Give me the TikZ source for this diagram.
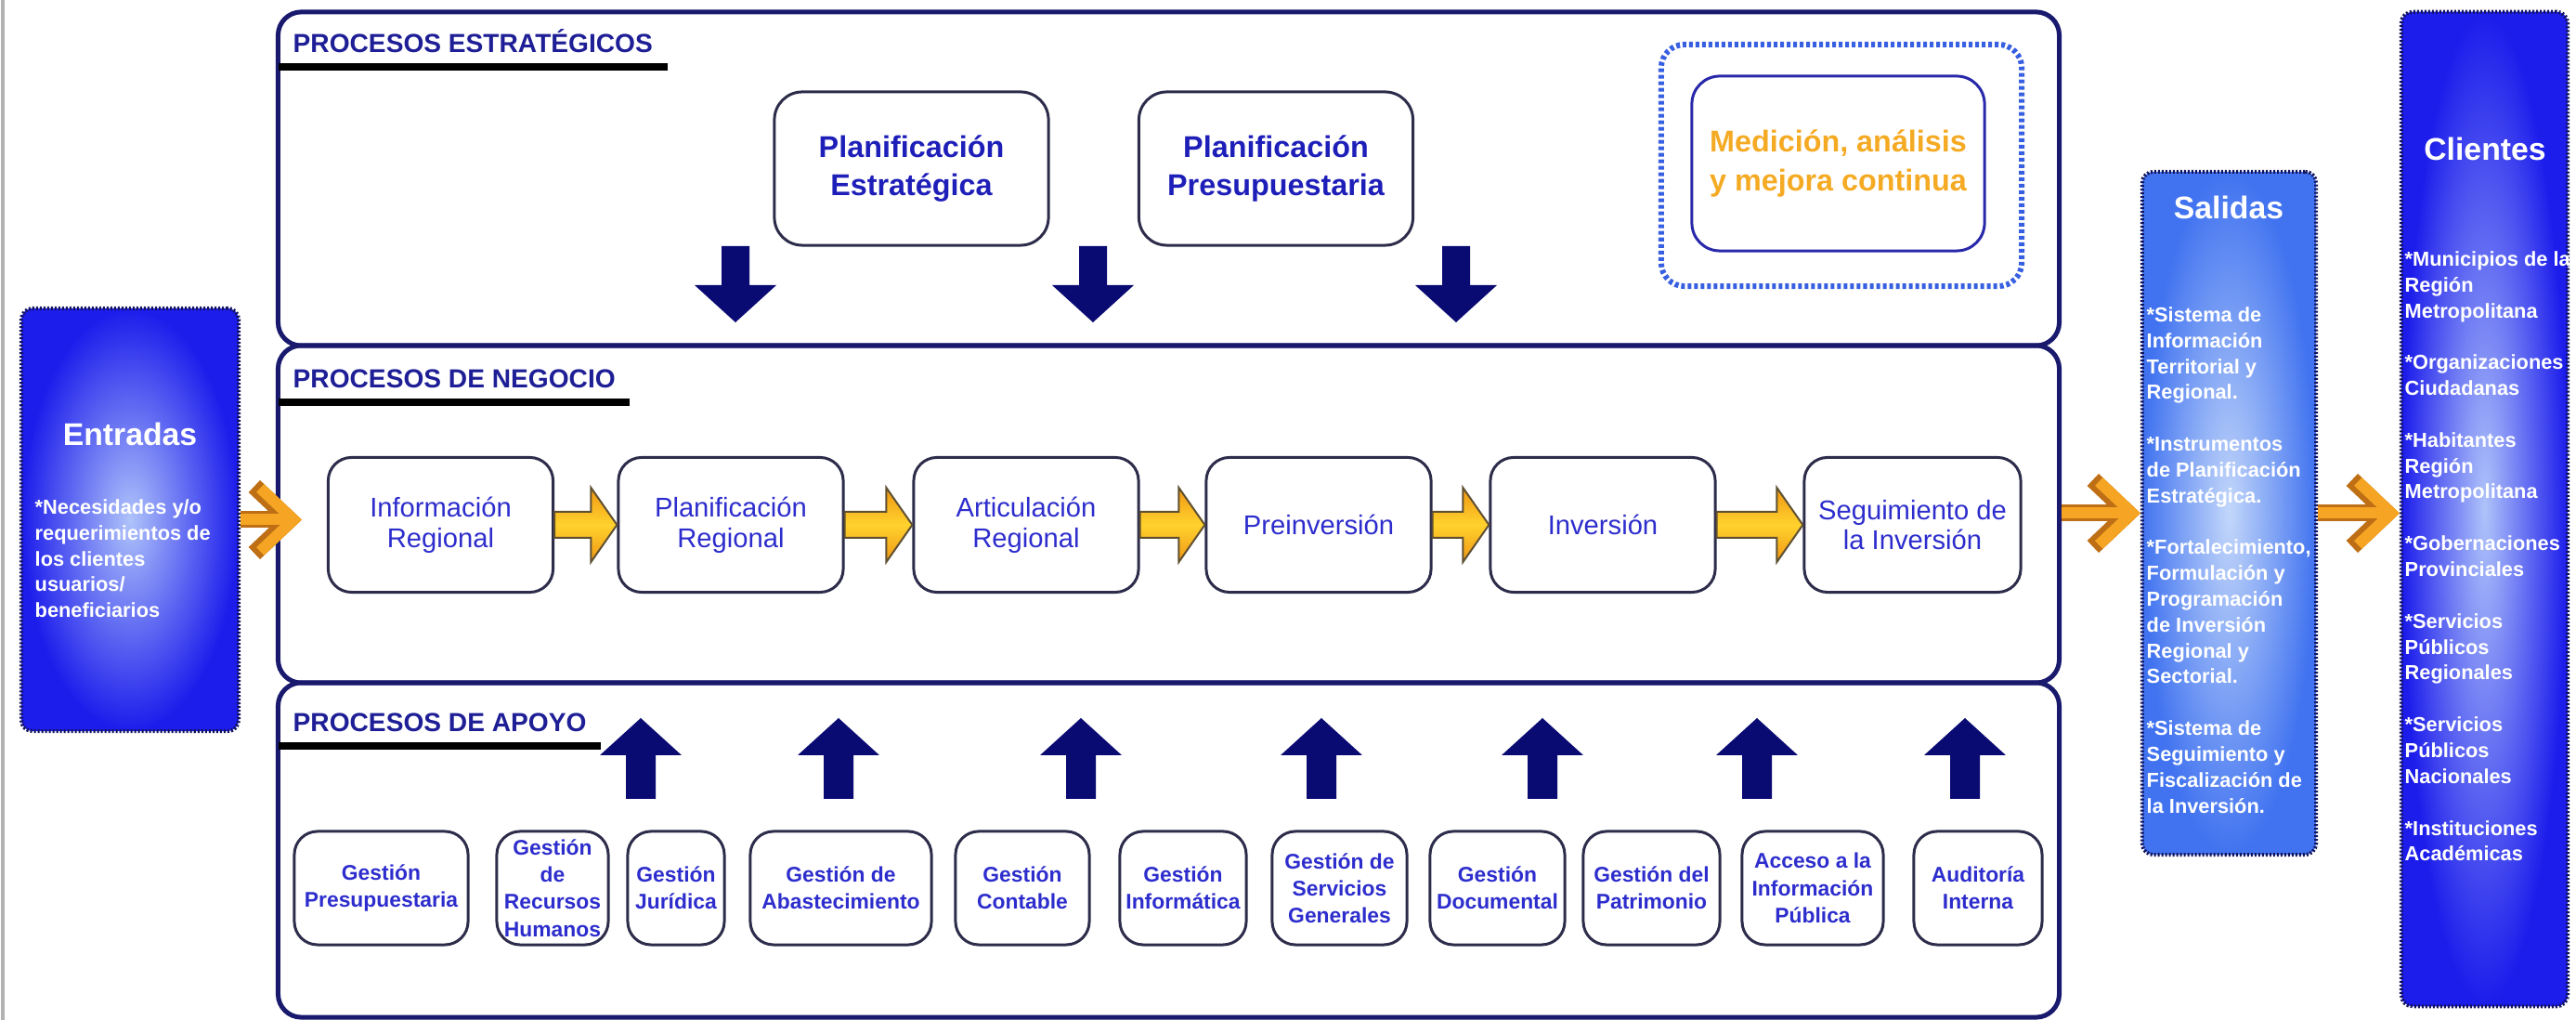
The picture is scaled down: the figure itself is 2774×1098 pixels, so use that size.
\documentclass[tikz,border=0pt]{standalone}
\usepackage{fontspec}
\setmainfont{Liberation Sans}
\usetikzlibrary{arrows.meta,calc}

\definecolor{marino}{RGB}{25,25,110}
\definecolor{azulflecha}{RGB}{10,10,115}
\definecolor{borde}{RGB}{45,45,75}
\definecolor{azultexto}{RGB}{30,30,185}
\definecolor{azulproc}{RGB}{45,45,205}
\definecolor{azulcab}{RGB}{30,30,150}
\definecolor{azulmed}{RGB}{40,40,170}
\definecolor{azulpunto}{RGB}{55,95,225}
\definecolor{naranjatexto}{RGB}{245,170,35}
\definecolor{azulfuerte}{RGB}{28,28,235}
\definecolor{celeste}{RGB}{175,195,250}
\definecolor{azulclaro}{RGB}{65,115,240}
\definecolor{celestesal}{RGB}{195,215,250}
\definecolor{bordeext}{RGB}{20,20,90}
\definecolor{naranja}{RGB}{240,150,20}
\definecolor{amarillo}{RGB}{255,210,45}
\definecolor{bordeflujo}{RGB}{95,80,50}
\definecolor{naranjaflecha}{RGB}{245,165,35}
\definecolor{bordechevron}{RGB}{190,110,20}

\tikzset{
	panel/.style={draw=marino, line width=0.05cm, rounded corners=0.25cm, minimum width=19.17cm},
	estrat/.style={draw=borde, line width=0.03cm, rounded corners=0.3cm, align=center, text=azultexto, font=\fontsize{9.2}{11.7}\selectfont\bfseries},
	proceso/.style={draw=borde, line width=0.03cm, rounded corners=0.25cm, minimum width=2.42cm, minimum height=1.45cm, align=center, text=azulproc, font=\fontsize{8.3}{9.3}\selectfont},
	soporte/.style={draw=borde, line width=0.03cm, rounded corners=0.25cm, minimum height=1.22cm, inner sep=0pt, align=center, text=azulproc, font=\fontsize{6.5}{8.3}\selectfont\bfseries},
	punteado/.style={draw=azulpunto, line width=0.06cm, dash pattern=on 0.04cm off 0.03cm, rounded corners=0.25cm},
	externo/.style={draw=bordeext, line width=0.04cm, dash pattern=on 0.02cm off 0.02cm, rounded corners=0.12cm},
	titulo/.style={text=white, font=\fontsize{9.6}{11}\selectfont\bfseries},
	lista/.style={anchor=north west, align=left, inner sep=0pt, text=white, font=\fontsize{6.2}{7.9}\selectfont\bfseries},
	encabezado/.style={anchor=south west, inner xsep=0.15cm, inner ysep=0.15cm, text=azulcab, font=\fontsize{8}{9.6}\selectfont\bfseries},
	regla/.style={line width=0.08cm, black},
	bloque/.style={draw=bordeflujo, line width=0.02cm, top color=naranja, bottom color=naranja, middle color=amarillo},
	chevron/.style={draw=naranjaflecha, line width=0.12cm, -{Straight Barb[length=0.36cm, width=0.68cm]}, preaction={draw=bordechevron, line width=0.18cm, -{Straight Barb[length=0.38cm, width=0.72cm]}}},
	bajada/.pic={\fill[azulflecha] (-15,0) -- (15,0) -- (15,42) -- (44,42) -- (0,82) -- (-44,42) -- (-15,42) -- cycle;},
	subida/.pic={\fill[azulflecha] (0,0) -- (44,40) -- (16,40) -- (16,87) -- (-16,87) -- (-16,40) -- (-44,40) -- cycle;}
}

\newcommand{\flujo}[2]{\draw[bloque] ($(#1.east)+(0,-14)$) -- ($(#2.west)+(-28,-14)$) -- ($(#2.west)+(-28,-40)$) -- (#2.west) -- ($(#2.west)+(-28,40)$) -- ($(#2.west)+(-28,14)$) -- ($(#1.east)+(0,14)$) -- cycle;}

\begin{document}
\begin{tikzpicture}[x=0.01cm, y=-0.01cm]

	\useasboundingbox (0,0) rectangle (2774,1098);
	\draw[gray!60, line width=0.04cm] (3,0) -- (3,1098);

	\node[panel, minimum height=3.59cm](estrategicos) at (1258.5,192.5){};
	\node[panel, minimum height=3.63cm](negocio) at (1258.5,553.5){};
	\node[panel, minimum height=3.6cm](apoyo) at (1258.5,915){};

	\node[encabezado](testrat) at (300,72){PROCESOS ESTRATÉGICOS};
	\node[encabezado](tnegocio) at (300,433){PROCESOS DE NEGOCIO};
	\node[encabezado](tapoyo) at (300,803){PROCESOS DE APOYO};
	\draw[regla] (testrat.south west) -- (testrat.south east);
	\draw[regla] (tnegocio.south west) -- (tnegocio.south east);
	\draw[regla] (tapoyo.south west) -- (tapoyo.south east);

	\node[estrat, minimum width=2.95cm, minimum height=1.65cm](planest) at (981.5,181.5){Planificación\\Estratégica};
	\node[estrat, minimum width=2.95cm, minimum height=1.65cm](planpres) at (1374,181.5){Planificación\\Presupuestaria};
	\node[punteado, minimum width=3.88cm, minimum height=2.6cm](mejora) at (1983,178){};
	\node[estrat, draw=azulmed, text=naranjatexto, minimum width=3.15cm, minimum height=1.88cm](medicion) at (1979.5,176){Medición, análisis\\y mejora continua};

	\pic at (792,265) {bajada};
	\pic at (1177,265) {bajada};
	\pic at (1568,265) {bajada};

	\node[proceso](info) at (474.5,565){Información\\Regional};
	\node[proceso](planreg) at (787,565){Planificación\\Regional};
	\node[proceso](artic) at (1105,565){Articulación\\Regional};
	\node[proceso](preinv) at (1420,565){Preinversión};
	\node[proceso](inv) at (1726,565){Inversión};
	\node[proceso, minimum width=2.33cm](segui) at (2059.5,565){Seguimiento de\\la Inversión};

	\flujo{info}{planreg}
	\flujo{planreg}{artic}
	\flujo{artic}{preinv}
	\flujo{preinv}{inv}
	\flujo{inv}{segui}

	\pic at (690,773) {subida};
	\pic at (903,773) {subida};
	\pic at (1164,773) {subida};
	\pic at (1423,773) {subida};
	\pic at (1661,773) {subida};
	\pic at (1892,773) {subida};
	\pic at (2116,773) {subida};

	\node[soporte, minimum width=1.87cm](presup) at (410.5,956){Gestión\\Presupuestaria};
	\node[soporte, minimum width=1.2cm](rrhh) at (595,956){Gestión\\de\\Recursos\\Humanos};
	\node[soporte, minimum width=1.04cm](juridica) at (728,956){Gestión\\Jurídica};
	\node[soporte, minimum width=1.95cm](abast) at (905.5,956){Gestión de\\Abastecimiento};
	\node[soporte, minimum width=1.44cm](contable) at (1101,956){Gestión\\Contable};
	\node[soporte, minimum width=1.36cm](informatica) at (1274,956){Gestión\\Informática};
	\node[soporte, minimum width=1.45cm](servicios) at (1442.5,956){Gestión de\\Servicios\\Generales};
	\node[soporte, minimum width=1.45cm](documental) at (1612.5,956){Gestión\\Documental};
	\node[soporte, minimum width=1.47cm](patrimonio) at (1778.5,956){Gestión del\\Patrimonio};
	\node[soporte, minimum width=1.52cm](acceso) at (1952,956){Acceso a la\\Información\\Pública};
	\node[soporte, minimum width=1.38cm](auditoria) at (2130,956){Auditoría\\Interna};

	\node[externo, inner color=celeste, outer color=azulfuerte, minimum width=2.34cm, minimum height=4.55cm](entradas) at (140,559.5){};
	\node[titulo](tentradas) at (140,467){Entradas};
	\node[lista](lentradas) at (37,537){*Necesidades y/o\\requerimientos de\\los clientes\\usuarios/\\beneficiarios};

	\node[externo, inner color=celestesal, outer color=azulclaro, minimum width=1.87cm, minimum height=7.35cm](salidas) at (2400.5,552.5){};
	\node[titulo](tsalidas) at (2400,223){Salidas};
	\node[lista](lsalidas) at (2311,330){*Sistema de\\Información\\Territorial y\\Regional.\\[0.28cm]*Instrumentos\\de Planificación\\Estratégica.\\[0.28cm]*Fortalecimiento,\\Formulación y\\Programación\\de Inversión\\Regional y\\Sectorial.\\[0.28cm]*Sistema de\\Seguimiento y\\Fiscalización de\\la Inversión.};

	\node[externo, inner color=celeste, outer color=azulfuerte, minimum width=1.79cm, minimum height=10.7cm](clientes) at (2675.5,548){};
	\node[titulo](tclientes) at (2676,160){Clientes};
	\node[lista](lclientes) at (2589,270){*Municipios de la\\Región\\Metropolitana\\[0.28cm]*Organizaciones\\Ciudadanas\\[0.28cm]*Habitantes\\Región\\Metropolitana\\[0.28cm]*Gobernaciones\\Provinciales\\[0.28cm]*Servicios\\Públicos\\Regionales\\[0.28cm]*Servicios\\Públicos\\Nacionales\\[0.28cm]*Instituciones\\Académicas};

	\draw[chevron, shorten >=-0.28cm] (entradas.east) -- (entradas.east -| negocio.west);
	\draw[chevron] (negocio.east |- salidas.west) -- (salidas.west);
	\draw[chevron] (salidas.east) -- (salidas.east -| clientes.west);

\end{tikzpicture}
\end{document}
